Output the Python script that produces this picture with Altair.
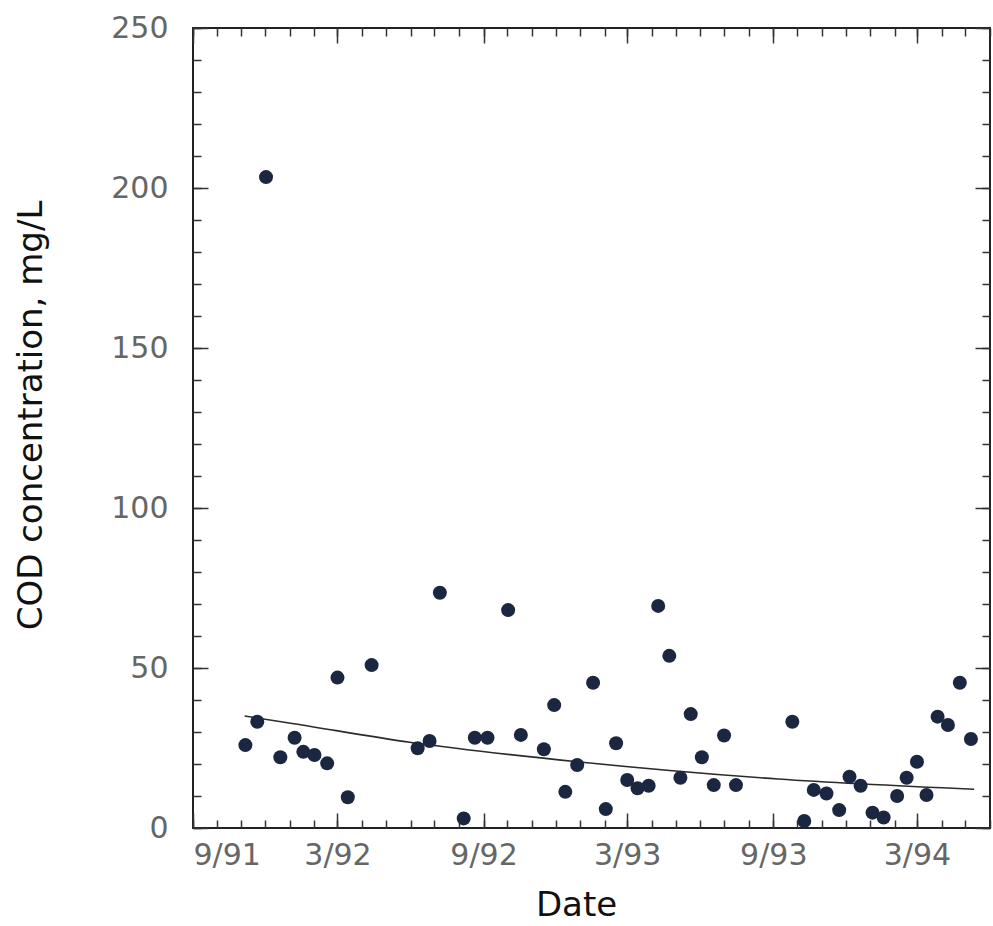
import altair as alt
import pandas as pd

# ---- data ----
sample_dates = [
    "1991-11-06", "1991-11-21", "1991-12-02", "1991-12-20", "1992-01-07", "1992-01-18",
    "1992-02-01", "1992-02-17", "1992-03-01", "1992-03-14", "1992-04-13", "1992-06-10",
    "1992-06-25", "1992-07-08", "1992-08-07", "1992-08-21", "1992-09-06", "1992-10-02",
    "1992-10-18", "1992-11-16", "1992-11-29", "1992-12-13", "1992-12-28", "1993-01-17",
    "1993-02-02", "1993-02-15", "1993-03-01", "1993-03-14", "1993-03-28", "1993-04-09",
    "1993-04-23", "1993-05-07", "1993-05-20", "1993-06-03", "1993-06-18", "1993-07-01",
    "1993-07-16", "1993-09-25", "1993-10-10", "1993-10-22", "1993-11-07", "1993-11-23",
    "1993-12-06", "1993-12-20", "1994-01-04", "1994-01-18", "1994-02-04", "1994-02-16",
    "1994-03-01", "1994-03-13", "1994-03-27", "1994-04-09", "1994-04-24", "1994-05-08",
]
cod_values = [
    25.9, 33.2, 203.4, 22.1, 28.2, 23.8,
    22.8, 20.2, 47.0, 9.6, 50.9, 24.9,
    27.2, 73.5, 3.0, 28.2, 28.2, 68.1,
    29.1, 24.6, 38.4, 11.3, 19.7, 45.4,
    5.9, 26.5, 15.0, 12.4, 13.2, 69.4,
    53.8, 15.7, 35.6, 22.1, 13.4, 28.9,
    13.4, 33.2, 2.2, 11.9, 10.8, 5.6,
    16.0, 13.2, 4.8, 3.3, 10.0, 15.7,
    20.7, 10.3, 34.8, 32.2, 45.4, 27.8,
]
trend_dates = ["1991-11-05", "1992-01-06", "1992-05-31", "1992-12-28", "1993-09-07", "1994-05-12"]
trend_values = [35.0, 32.6, 26.8, 20.7, 15.3, 12.1]

x_major_ticks = ["1991-09-01", "1992-03-01", "1992-09-01", "1993-03-01", "1993-09-01", "1994-03-01"]
x_domain = ["1991-09-01", "1994-06-01"]
y_major_ticks = [0, 50, 100, 150, 200, 250]
y_minor_ticks = [0, 10, 20, 30, 40, 50, 60, 70, 80, 90, 100, 110, 120, 130, 140, 150,
                 160, 170, 180, 190, 200, 210, 220, 230, 240, 250]

points = pd.DataFrame({"date": sample_dates, "cod": cod_values})
trend = pd.DataFrame({"date": trend_dates, "cod": trend_values})


def ms(s):
    return int(pd.Timestamp(s, tz="UTC").value // 10**6)


xscale = alt.Scale(type="utc", domain=[ms(d) for d in x_domain])
yscale = alt.Scale(domain=[0, 250], nice=False, zero=True)

MAJ, MIN = 15, 8

x_major_vals = [ms(d) for d in x_major_ticks]

ax_bottom_major = alt.Axis(orient="bottom", offset=-MAJ, tickSize=MAJ, values=x_major_vals,
                           labelExpr="utcFormat(datum.value, '%-m/%y')", labelPadding=12,
                           labelOverlap=False,
                           title="Date", titleX=383, titleY=92, titleBaseline="middle",
                           titleAlign="center")
ax_bottom_minor = alt.Axis(orient="bottom", offset=-MIN, tickSize=MIN,
                           tickCount=alt.TimeIntervalStep(interval="month", step=1),
                           labels=False, title=None)
ax_top_major = alt.Axis(orient="top", offset=-MAJ, tickSize=MAJ, values=x_major_vals,
                        labels=False, title=None)
ax_top_minor = alt.Axis(orient="top", offset=-MIN, tickSize=MIN,
                        tickCount=alt.TimeIntervalStep(interval="month", step=1),
                        labels=False, title=None)

ay_left_major = alt.Axis(orient="left", offset=-MAJ, tickSize=MAJ, values=y_major_ticks,
                         labelPadding=25, title="COD concentration, mg/L",
                         titleX=-177, titleY=387, titleAngle=270, titleBaseline="middle",
                         titleAlign="center")
ay_left_minor = alt.Axis(orient="left", offset=-MIN, tickSize=MIN, values=y_minor_ticks,
                         labels=False, title=None)
ay_right_major = alt.Axis(orient="right", offset=-MAJ, tickSize=MAJ, values=y_major_ticks,
                          labels=False, title=None)
ay_right_minor = alt.Axis(orient="right", offset=-MIN, tickSize=MIN, values=y_minor_ticks,
                          labels=False, title=None)

line = alt.Chart(trend).mark_line(color="#2b2b2b", strokeWidth=1.6, interpolate="monotone").encode(
    x=alt.X("date:T", scale=xscale, axis=ax_bottom_minor),
    y=alt.Y("cod:Q", scale=yscale, axis=ay_left_minor),
)
ghost1 = alt.Chart(trend).mark_line(opacity=0).encode(
    x=alt.X("date:T", scale=xscale, axis=ax_top_major),
    y=alt.Y("cod:Q", scale=yscale, axis=ay_right_major),
)
ghost2 = alt.Chart(trend).mark_line(opacity=0).encode(
    x=alt.X("date:T", scale=xscale, axis=ax_top_minor),
    y=alt.Y("cod:Q", scale=yscale, axis=ay_right_minor),
)
dots = alt.Chart(points).mark_circle(size=196, color="#1b2640", opacity=1).encode(
    x=alt.X("date:T", scale=xscale, axis=ax_bottom_major),
    y=alt.Y("cod:Q", scale=yscale, axis=ay_left_major),
)

chart = (
    alt.layer(line, ghost1, ghost2, dots)
    .resolve_axis(x="independent", y="independent")
    .properties(
        width=797,
        height=800,
        autosize=alt.AutoSizeParams(type="none"),
        padding={"left": 193, "top": 28, "right": 3, "bottom": 98},
        background="white",
    )
    .configure_view(stroke="#222", strokeWidth=2)
    .configure_axis(
        grid=False,
        domain=False,
        tickColor="#333",
        tickWidth=1.5,
        labelFont="DejaVu Sans",
        labelFontSize=30,
        labelColor="#666",
        titleFont="DejaVu Sans",
        titleFontSize=34,
        titleFontWeight="normal",
        titleColor="#111",
    )
)

chart.save("out.html", embed_options={"renderer": "svg", "actions": False})
